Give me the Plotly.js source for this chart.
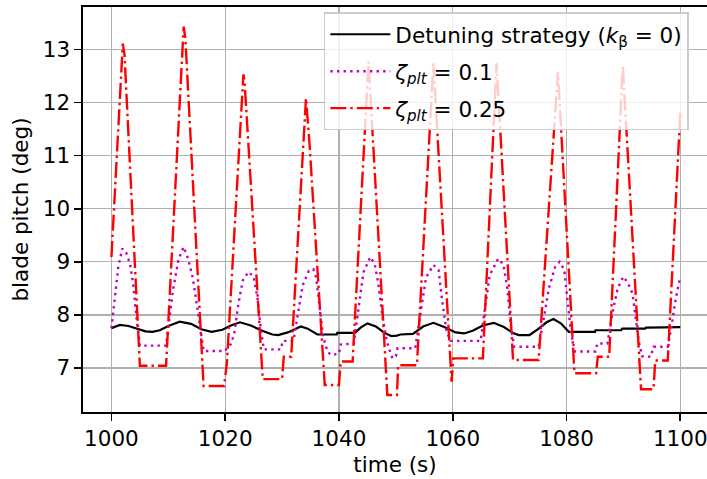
<!DOCTYPE html>
<html>
<head>
<meta charset="utf-8">
<script src="https://cdn.plot.ly/plotly-3.0.1.min.js"></script>
<style>html,body{margin:0;padding:0;background:#fff;}#chart{width:707px;height:479px;}</style>
</head>
<body>
<div id="chart"></div>
<script>
// Detuning strategy (k_beta = 0)
const tBlack = [1000.0,1001.5,1003.0,1004.5,1006.0,1007.2,1008.5,1010.0,1012.0,1014.0,1015.8,1017.6,1019.5,1021.0,1022.6,1024.5,1026.5,1028.3,1029.3,1031.0,1033.3,1034.5,1035.5,1036.2,1039.6,1039.7,1042.8,1043.8,1045.0,1046.5,1048.0,1049.2,1050.2,1050.8,1053.0,1054.8,1056.6,1058.5,1060.5,1062.0,1063.5,1065.3,1067.2,1069.0,1070.6,1071.6,1073.5,1075.0,1076.5,1077.7,1079.0,1080.4,1085.0,1085.1,1089.6,1089.8,1093.8,1094.0,1100.0];
const vBlack = [7.75,7.81,7.79,7.74,7.69,7.68,7.71,7.79,7.87,7.83,7.73,7.68,7.72,7.80,7.86,7.80,7.70,7.63,7.62,7.67,7.78,7.74,7.67,7.63,7.63,7.66,7.66,7.76,7.84,7.78,7.66,7.60,7.61,7.63,7.64,7.78,7.85,7.77,7.67,7.65,7.70,7.80,7.85,7.77,7.66,7.62,7.62,7.73,7.86,7.92,7.84,7.68,7.68,7.71,7.71,7.74,7.74,7.76,7.77];

// zeta_plt = 0.1
const tZeta01 = [1000.0,1000.6,1001.2,1001.9,1002.6,1003.3,1003.8,1004.4,1005.0,1009.6,1010.0,1010.8,1011.8,1012.7,1013.5,1014.3,1015.0,1015.8,1016.2,1020.0,1020.4,1021.0,1021.6,1022.3,1023.1,1024.1,1025.0,1025.7,1026.3,1026.8,1029.8,1030.1,1032.0,1032.6,1033.6,1034.7,1035.5,1036.0,1036.6,1037.2,1038.0,1038.7,1040.0,1040.3,1042.6,1043.3,1044.3,1045.5,1046.3,1046.9,1047.6,1048.4,1049.4,1050.0,1050.3,1053.4,1054.2,1055.3,1056.6,1057.5,1058.1,1058.9,1059.6,1064.9,1065.5,1066.5,1068.0,1068.9,1069.6,1070.2,1070.8,1075.1,1075.8,1076.9,1078.0,1078.8,1079.6,1080.2,1080.8,1081.5,1085.1,1085.4,1087.2,1088.0,1089.0,1090.0,1090.8,1091.6,1092.2,1092.7,1093.3,1094.8,1095.3,1097.8,1098.4,1099.2,1100.0];
const vZeta01 = [7.75,8.30,8.90,9.25,9.17,8.95,8.60,7.95,7.42,7.42,7.75,8.45,9.05,9.28,9.05,8.70,8.20,7.60,7.32,7.32,7.40,7.45,7.65,8.20,8.65,8.81,8.72,8.30,7.70,7.35,7.35,7.51,7.51,7.90,8.55,8.83,8.86,8.70,8.20,7.60,7.30,7.24,7.27,7.44,7.46,8.00,8.80,9.09,8.95,8.60,8.00,7.50,7.18,7.22,7.37,7.37,7.95,8.70,8.94,8.85,8.30,7.70,7.51,7.51,8.00,8.75,9.06,8.95,8.50,7.80,7.40,7.40,7.80,8.50,8.90,9.00,8.85,8.30,7.65,7.31,7.31,7.46,7.46,8.00,8.50,8.72,8.60,8.40,7.90,7.50,7.22,7.21,7.40,7.40,7.75,8.30,8.72];

// zeta_plt = 0.25
const tZeta025 = [1000.0,1002.0,1002.3,1005.0,1009.6,1012.7,1013.0,1016.2,1019.8,1020.3,1023.2,1023.4,1026.6,1030.0,1030.3,1031.6,1034.2,1034.8,1037.5,1040.0,1040.3,1042.4,1045.2,1048.5,1050.2,1050.4,1053.7,1056.6,1059.8,1060.1,1065.3,1067.7,1070.6,1075.1,1078.5,1081.4,1085.2,1085.5,1087.5,1089.9,1093.1,1095.3,1095.6,1097.8,1100.0];
const vZeta025 = [9.09,13.11,12.90,7.04,7.04,13.43,13.20,6.66,6.66,7.09,12.53,12.40,6.79,6.79,7.21,7.21,12.08,11.26,6.68,6.68,7.12,7.12,12.77,6.49,6.49,7.05,7.05,12.74,6.74,7.18,7.18,12.74,7.15,7.15,12.58,6.90,6.90,7.21,7.21,12.70,6.60,6.60,7.14,7.14,11.80];

const xTicks = [1000,1020,1040,1060,1080,1100];
const yTicks = [7,8,9,10,11,12,13];
const legendNames = [
  'Detuning strategy (<i>k</i><sub>β</sub> = 0)',
  '<i>ζ</i><sub><i>plt</i></sub> = 0.1',
  '<i>ζ</i><sub><i>plt</i></sub> = 0.25'
];

const FONT = 'DejaVu Sans, sans-serif';
const FS = 21.5;

const traces = [
  {x: tBlack, y: vBlack, mode: 'lines', name: legendNames[0], legendgroup: 'a',
   line: {color: '#000000', width: 2.2}},
  {x: tZeta01, y: vZeta01, mode: 'lines', name: legendNames[1], legendgroup: 'b',
   line: {color: '#bf00bf', width: 2.4, dash: '2.4px,4.2px'}},
  {x: tZeta025, y: vZeta025, mode: 'lines', name: legendNames[2], legendgroup: 'c',
   line: {color: '#ff0000', width: 2.4, dash: '16px,4px,2.4px,4px'}}
];

const layout = {
  width: 707, height: 479,
  margin: {l: 83, r: 0, t: 7, b: 67},
  paper_bgcolor: '#ffffff', plot_bgcolor: '#ffffff',
  font: {family: FONT, size: FS, color: '#000000'},
  showlegend: true,
  legend: {
    x: 0.386, y: 0.987, xanchor: 'left', yanchor: 'top',
    bgcolor: 'rgba(255,255,255,0.8)', bordercolor: '#cccccc', borderwidth: 1.5,
    font: {family: FONT, size: FS, color: '#000000'},
    tracegroupgap: 6, traceorder: 'grouped', itemwidth: 60
  },
  xaxis: {
    range: [995, 1104.7], tickvals: xTicks, ticktext: xTicks.map(String),
    showgrid: true, gridcolor: '#b0b0b0', gridwidth: 1.4,
    showline: true, linecolor: '#000000', linewidth: 1.6, mirror: true,
    ticks: 'outside', ticklen: 7, tickwidth: 1.6, tickcolor: '#000000',
    zeroline: false, automargin: false, ticklabeloverflow: 'allow',
    tickfont: {family: FONT, size: FS},
    title: {text: 'time (s)', font: {family: FONT, size: FS}, standoff: 6}
  },
  yaxis: {
    range: [6.17, 13.80], tickvals: yTicks, ticktext: yTicks.map(String),
    showgrid: true, gridcolor: '#b0b0b0', gridwidth: 1.4,
    showline: true, linecolor: '#000000', linewidth: 1.6, mirror: false,
    ticks: 'outside', ticklen: 7, tickwidth: 1.6, tickcolor: '#000000',
    zeroline: false, automargin: false,
    tickfont: {family: FONT, size: FS},
    title: {text: 'blade pitch (deg)', font: {family: FONT, size: FS}, standoff: 8}
  }
};

Plotly.newPlot('chart', traces, layout, {displayModeBar: false, staticPlot: true});
</script>
</body>
</html>
